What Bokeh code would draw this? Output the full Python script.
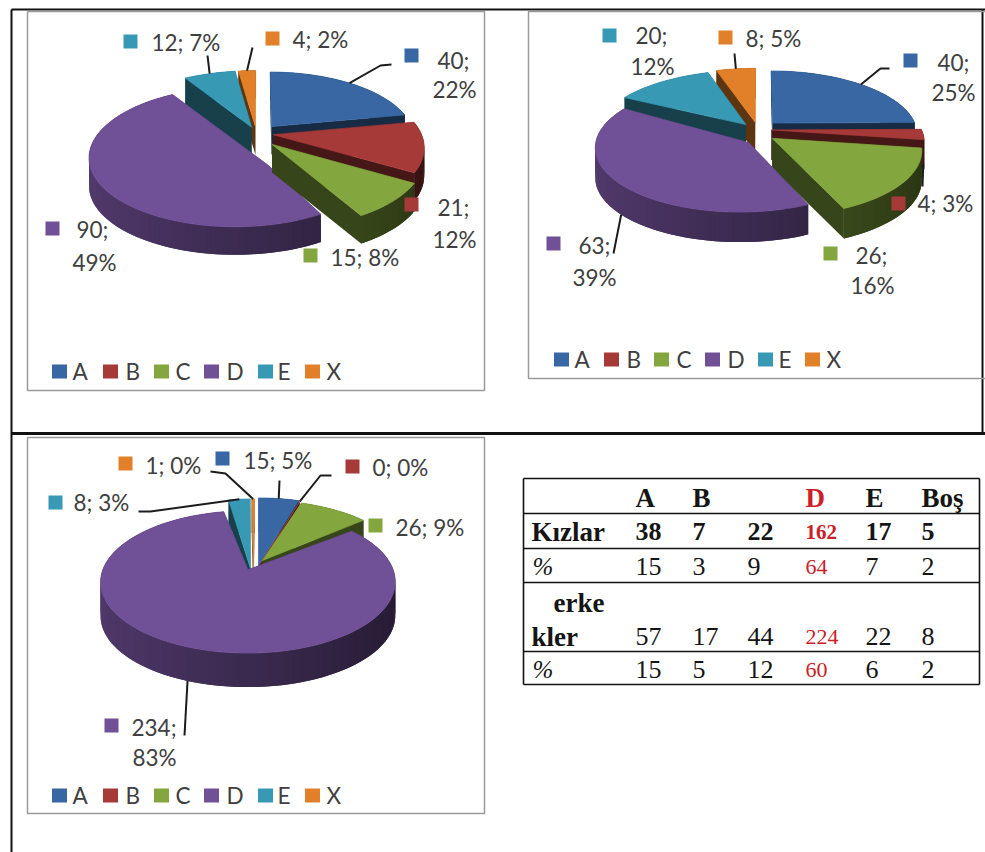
import math
from bokeh.embed import file_html
from bokeh.models import Range1d
from bokeh.plotting import figure
from bokeh.resources import INLINE
from bokeh.core.properties import value

# Answer shares per option
categories = ["A", "B", "C", "D", "E", "X"]
values_left = [40, 21, 15, 90, 12, 4]
percent_left = [22, 12, 8, 49, 7, 2]
values_right = [40, 4, 26, 63, 20, 8]
percent_right = [25, 3, 16, 39, 12, 5]
values_bottom = [15, 0, 26, 234, 8, 1]
percent_bottom = [5, 0, 9, 83, 3, 0]

# Summary table
table_head = ["A", "B", "", "D", "E", "Boş"]
girls_counts = ["38", "7", "22", "162", "17", "5"]
girls_percent = ["15", "3", "9", "64", "7", "2"]
boys_counts = ["57", "17", "44", "224", "22", "8"]
boys_percent = ["15", "5", "12", "60", "6", "2"]

# Slice colours
slice_rgb = [(56, 103, 163), (166, 58, 56), (132, 166, 62), (112, 80, 150), (56, 153, 180), (226, 128, 42)]
INK = "#404040"
LABEL_FONT = "Lato"
LABEL_SIZE = "22.5px"
PERSPECTIVE = 0.17

p = figure(width=985, height=852, output_backend="svg", toolbar_location=None,
           x_range=Range1d(0, 985), y_range=Range1d(852, 0),
           x_axis_type=None, y_axis_type=None, min_border=0, outline_line_color=None)
p.xgrid.visible = False
p.ygrid.visible = False


def shade(rgb, k):
    return "#%02x%02x%02x" % tuple(min(255, int(c * k)) for c in rgb)


def place(pie, i, u, v):
    """Project a point of the pie plane to the page, with the slice's own placement."""
    w = 1 + PERSPECTIVE * v
    adj = pie["adjust"].get(i, {})
    s = adj.get("scale", 1.0)
    dx, dy = adj.get("shift", (0, 0))
    return (pie["cx"] + s * pie["rx"] * u / w + dx,
            pie["cy"] - s * pie["ry"] * v / w + dy)


def slices_of(vals):
    total = sum(vals)
    out = []
    run = 0
    for i, val in enumerate(vals):
        start = 2 * math.pi * run / total
        run += val
        out.append((i, start, 2 * math.pi * run / total))
    return out


def rim_point(pie, i, start, end):
    mid = (start + end) / 2
    e = pie["explode"]
    x, y = place(pie, i, (1 + e) * math.sin(mid), (1 + e) * math.cos(mid))
    return x, y + (pie["depth"] if math.cos(mid) < 0 else 0)


def draw_pie(vals, pie):
    e = pie["explode"]
    depth = pie["depth"]
    ordered = sorted(slices_of(vals), key=lambda s: -math.cos((s[1] + s[2]) / 2))
    for i, start, end in ordered:
        rgb = slice_rgb[i]
        mid = (start + end) / 2
        ou, ov = e * math.sin(mid), e * math.cos(mid)
        steps = max(1, int((end - start) / math.radians(1.5)))
        angles = [start + (end - start) * k / steps for k in range(steps + 1)]
        ring_uv = [(ou + math.sin(a), ov + math.cos(a)) for a in angles]
        ring = [place(pie, i, u, v) for u, v in ring_uv]
        apex = pie["adjust"].get(i, {}).get("apex") or place(pie, i, ou, ov)

        # Side walls, back to front; rim pieces overlap their neighbour to hide seams
        faces = []
        for j in range(len(ring) - 1):
            a_uv, b_uv = ring_uv[j], ring_uv[j + 1]
            a, b = ring[j], ring[min(j + 2, len(ring) - 1)]
            k = 0.72 - 0.38 * ((a_uv[0] + b_uv[0]) / 4 + 0.5)
            faces.append(((a_uv[1] + b_uv[1]) / 2, a, b, k))
        faces.append((ov + math.cos(start) / 2, apex, ring[0], 0.42))
        faces.append((ov + math.cos(end) / 2, apex, ring[-1], 0.42))
        faces.sort(key=lambda f: -f[0])

        p.patches([[f[1][0], f[2][0], f[2][0], f[1][0]] for f in faces],
                  [[f[1][1], f[2][1], f[2][1] + depth, f[1][1] + depth] for f in faces],
                  fill_color=[shade(rgb, f[3]) for f in faces], line_color=None)

        top = [apex] + ring
        color = shade(rgb, 1)
        p.patch([q[0] for q in top], [q[1] for q in top], fill_color=color, line_color=color, line_width=0.7)


def draw_labels(vals, percents, spots):
    tx, ty, t = [], [], []
    sx, sy, sc = [], [], []
    for i, (square, first, second) in enumerate(spots):
        sx.append(square[0])
        sy.append(square[1])
        sc.append(shade(slice_rgb[i], 1))
        if second is None:
            tx.append(first[0]); ty.append(first[1]); t.append(f"{vals[i]}; {percents[i]}%")
        else:
            tx.append(first[0]); ty.append(first[1]); t.append(f"{vals[i]};")
            tx.append(second[0]); ty.append(second[1]); t.append(f"{percents[i]}%")
    p.rect(sx, sy, width=14, height=14, fill_color=sc, line_color=None)
    p.text(tx, ty, text=t, text_font=value(LABEL_FONT), text_font_size=LABEL_SIZE,
           text_color=INK, text_baseline="middle", text_align="left")


def draw_leaders(vals, pie, leaders):
    parts = slices_of(vals)
    xs, ys = [], []
    for i, elbow in leaders.items():
        x0, y0 = rim_point(pie, i, parts[i][1], parts[i][2])
        xs.append([x0] + [q[0] for q in elbow])
        ys.append([y0] + [q[1] for q in elbow])
    p.multi_line(xs, ys, line_color="#1c1c1c", line_width=2)


def draw_legend(y, square_x, text_x):
    p.rect(square_x, [y] * 6, width=15, height=14,
           fill_color=[shade(c, 1) for c in slice_rgb], line_color=None)
    p.text(text_x, [y] * 6, text=categories, text_font=value(LABEL_FONT), text_font_size=LABEL_SIZE,
           text_color=INK, text_baseline="middle")


# Page rules and chart frames
p.multi_line([[11, 985], [11, 11], [11, 985], [982, 982]],
             [[9, 9], [9, 852], [433, 433], [9, 433]],
             line_color="#111111", line_width=[2, 2, 3, 2])
p.multi_line([[27, 484, 484, 27, 27], [985, 528, 528, 985], [27, 484, 484, 27, 27]],
             [[11, 11, 390, 390, 11], [11, 11, 378, 378], [437, 437, 813, 813, 437]],
             line_color="#9a9a9a", line_width=1.5)

# Pies
pie_left = dict(cx=258, cy=133, rx=148, ry=68, explode=0.10, depth=28, adjust={
    0: dict(shift=(4, -2), scale=0.96), 1: dict(shift=(0, 0)), 2: dict(shift=(3, 6)),
    3: dict(shift=(-8, 8), scale=0.98, apex=(268, 165)),
    4: dict(shift=(-2, 0)), 5: dict(shift=(-2, 0)),
})
pie_right = dict(cx=760, cy=129, rx=150, ry=65, explode=0.10, depth=30, adjust={
    0: dict(shift=(2, -2), scale=0.96), 1: dict(shift=(-4, 0)),
    2: dict(shift=(0, 5), scale=0.97),
    3: dict(shift=(-8, 2), scale=0.95, apex=(748, 142)),
    4: dict(shift=(-5, 0)), 5: dict(shift=(-3, -1)),
})
pie_bottom = dict(cx=250, cy=566, rx=144, ry=68, explode=0.05, depth=34, adjust={
    0: dict(shift=(7, -8), apex=(258, 565)),
    1: dict(shift=(7, -7), apex=(260, 563)),
    2: dict(shift=(7, -6), apex=(262, 560)),
    4: dict(shift=(3, -7), apex=(250, 568)),
    5: dict(shift=(4, -7), apex=(253, 568)),
})

draw_pie(values_left, pie_left)
draw_pie(values_right, pie_right)
draw_pie(values_bottom, pie_bottom)

draw_leaders(values_left, pie_left, {0: [(380, 65), (391, 64)], 4: [(207, 55)], 5: [(252, 47)]})
draw_leaders(values_right, pie_right, {0: [(880, 68), (889, 68)], 1: [(922, 186)], 3: [(613, 253)], 5: [(734, 53)]})
draw_leaders(values_bottom, pie_bottom, {0: [(279, 480)], 1: [(320, 475), (331, 475)], 3: [(184, 735)],
                                         4: [(150, 511), (138, 511)], 5: [(225, 473), (210, 471)]})

draw_labels(values_left, percent_left, [
    ((411, 55), (437, 60), (432, 89)),
    ((411, 204), (437, 207), (432, 239)),
    ((310, 255), (330, 257), None),
    ((52, 228), (76, 229), (72, 262)),
    ((130, 41), (151, 42), None),
    ((272, 38), (292, 39), None),
])
draw_labels(values_right, percent_right, [
    ((910, 60), (937, 62), (931, 92)),
    ((898, 203), (917, 203), None),
    ((830, 253), (855, 255), (850, 285)),
    ((553, 243), (578, 245), (572, 277)),
    ((609, 35), (635, 35), (630, 66)),
    ((725, 37), (745, 38), None),
])
draw_labels(values_bottom, percent_bottom, [
    ((222, 458), (243, 460), None),
    ((352, 466), (372, 467), None),
    ((375, 525), (395, 527), None),
    ((111, 725), (131, 727), (132, 757)),
    ((55, 502), (73, 502), None),
    ((125, 463), (145, 465), None),
])

draw_legend(371, [59, 110, 161, 211, 265, 312], [72, 125, 175, 226, 277, 326])
draw_legend(359, [561, 611, 661, 712, 765, 812], [574, 626, 676, 727, 778, 826])
draw_legend(795, [59, 110, 161, 211, 265, 312], [72, 125, 175, 226, 277, 326])

# Summary table
rule_y = [478, 513, 548, 582, 651, 684]
p.multi_line([[523, 979]] * len(rule_y), [[y, y] for y in rule_y], line_color="#111111", line_width=1.6)
p.multi_line([[523, 523], [979, 979]], [[478, 684], [478, 684]], line_color="#111111", line_width=1.6)

column_x = [635, 692, 747, 805, 865, 921]
RED_COLUMN = 3
SERIF = "Liberation Serif"


def table_row(cells, y, bold, size="26px", red_size="22px"):
    for j, cell in enumerate(cells):
        red = j == RED_COLUMN
        p.text([column_x[j]], [y], text=[cell], text_font=value(SERIF),
               text_font_size=red_size if red else size,
               text_font_style="bold" if bold else "normal",
               text_color="#cc2027" if red else "#151515", text_baseline="middle")


def row_title(text, x, y, italic=False):
    p.text([x], [y], text=[text], text_font=value(SERIF), text_font_size="25px" if italic else "27px",
           text_font_style="italic" if italic else "bold", text_color="#151515", text_baseline="middle")


table_row(table_head, 497, True, size="27px", red_size="27px")
row_title("Kızlar", 531, 531)
table_row(girls_counts, 531, True, red_size="21px")
row_title("%", 532, 566, italic=True)
table_row(girls_percent, 566, False)
row_title("erke", 553, 602)
row_title("kler", 531, 636)
table_row(boys_counts, 636, False)
row_title("%", 532, 669, italic=True)
table_row(boys_percent, 669, False)

open("out.html", "w").write(file_html(p, INLINE))
